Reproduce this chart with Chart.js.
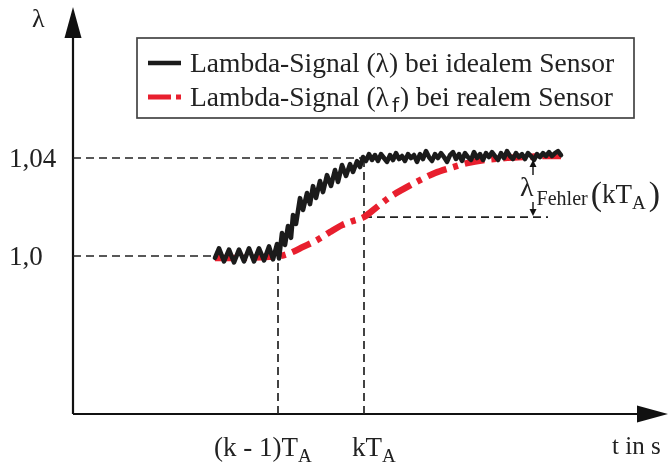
<!DOCTYPE html>
<html lang="de">
<head>
<meta charset="utf-8">
<title>Lambda-Signal</title>
<script src="https://cdn.jsdelivr.net/npm/chart.js@4.4.0/dist/chart.umd.min.js"></script>
<style>
	body { margin:0; background:#fff; }
	#wrap { width:671px; height:468px; position:relative; }
</style>
</head>
<body>
<div id="wrap"><canvas id="lambdaChart"></canvas></div>
<script>
// time axis (arbitrary units) and lambda values
const tIdeal = [14.2,14.6,15.1,15.6,16.1,16.6,17.1,17.6,18.1,18.6,19.1,19.6,20.0,20.4,20.6,
	20.9,21.2,21.5,21.8,22.0,22.3,22.7,23.0,23.4,23.7,24.0,24.3,24.7,25.0,25.4,25.8,26.2,26.5,26.9,27.3,27.7,28.0,28.4,28.7,29.0,
	29.3,29.6,29.9,30.2,30.5,30.8,31.1,31.4,31.7,32.0,32.3,32.6,32.9,33.2,33.5,33.8,34.1,34.4,34.7,35.0,
	35.3,35.6,35.9,36.2,36.5,36.8,37.1,37.4,37.7,38.0,38.3,38.6,38.9,39.2,39.5,39.8,40.1,40.4,40.7,41.0,
	41.3,41.6,41.9,42.2,42.5,42.8,43.1,43.4,43.7,44.0,44.3,44.6,44.9,45.2,45.5,45.8,46.1,46.4,46.7,47.0,
	47.3,47.6,47.9,48.2,48.5,48.8];
const lambdaIdeal = [0.9992,1.0031,0.9978,1.0026,0.9974,1.0026,0.9978,1.0031,0.9978,1.0031,0.9982,1.0039,0.9986,1.0049,0.9990,
	1.0094,1.0045,1.0122,1.0074,1.0167,1.0131,1.0236,1.0188,1.0257,1.0212,1.0285,1.0237,1.0306,1.0261,1.0330,1.0286,1.0351,1.0302,1.0371,1.0327,1.0375,1.0343,1.0387,1.0363,1.0404,
	1.0388,1.0416,1.0392,1.0412,1.0388,1.0416,1.0400,1.0384,1.0412,1.0392,1.0420,1.0396,1.0408,1.0388,1.0416,1.0400,1.0412,1.0384,1.0416,1.0396,
	1.0428,1.0404,1.0388,1.0416,1.0400,1.0420,1.0404,1.0384,1.0412,1.0424,1.0396,1.0416,1.0388,1.0420,1.0404,1.0392,1.0424,1.0400,1.0416,1.0392,
	1.0420,1.0404,1.0424,1.0408,1.0392,1.0420,1.0400,1.0428,1.0408,1.0396,1.0420,1.0404,1.0416,1.0396,1.0420,1.0408,1.0392,1.0416,1.0404,1.0420,
	1.0408,1.0424,1.0408,1.0420,1.0428,1.0412];

const tReal = [14.2,16.7,19.2,20.7,21.7,23.0,24.4,25.7,26.9,28.0,29.1,30.4,31.7,33.2,34.7,36.2,37.7,39.4,41.2,43.2,45.2,47.2,48.8];
const lambdaReal = [0.9992,0.9992,0.9996,1.0000,1.0012,1.0037,1.0065,1.0098,1.0126,1.0143,1.0159,1.0200,1.0241,1.0277,1.0310,1.0339,1.0359,1.0379,1.0392,1.0400,1.0404,1.0408,1.0408];

// axis range and marked positions
const tMin = 0, tMax = 59.5;
const lambdaMin = 0.9355, lambdaMax = 1.0996;
const tickLevels = [1.0, 1.04];
const tickLevelLabels = ['1,0', '1,04'];
const tKm1 = 20.5, tK = 29.1;
const lambdaFAtK = 1.0159;
const tErrorArrow = 46.0, tErrorEnd = 47.5;

const serif = '"Liberation Serif", "DejaVu Serif", serif';

function pts(xs, ys) {
	return xs.map(function (x, i) { return { x: x, y: ys[i] }; });
}

function guide(a, b) {
	return {
		data: [a, b],
		borderColor: '#222',
		borderWidth: 1.7,
		borderDash: [8, 5],
		pointRadius: 0,
		fill: false,
		tension: 0
	};
}

// draws text pieces with sub/superscripts, returns end x
function rich(ctx, parts, x, y) {
	parts.forEach(function (p) {
		ctx.font = (p.size || 27) + 'px ' + (p.family || serif);
		ctx.fillText(p.t, x, y + (p.dy || 0));
		x += ctx.measureText(p.t).width + (p.gap || 0);
	});
	return x;
}

function arrowHead(ctx, tipX, tipY, dx, dy, len, half) {
	const px = -dy, py = dx;
	ctx.beginPath();
	ctx.moveTo(tipX, tipY);
	ctx.lineTo(tipX - dx * len + px * half, tipY - dy * len + py * half);
	ctx.lineTo(tipX - dx * len - px * half, tipY - dy * len - py * half);
	ctx.closePath();
	ctx.fill();
}

const decorations = {
	id: 'decorations',
	beforeDatasetsDraw(chart) {
		const ctx = chart.ctx, a = chart.chartArea;
		ctx.save();
		ctx.strokeStyle = '#111';
		ctx.fillStyle = '#111';
		ctx.lineWidth = 2.2;
		// y axis
		ctx.beginPath();
		ctx.moveTo(a.left, a.bottom);
		ctx.lineTo(a.left, a.top + 20);
		ctx.stroke();
		arrowHead(ctx, a.left, a.top - 5, 0, -1, 31, 8.5);
		// x axis
		ctx.beginPath();
		ctx.moveTo(a.left, a.bottom);
		ctx.lineTo(a.right - 20, a.bottom);
		ctx.stroke();
		arrowHead(ctx, a.right, a.bottom, 1, 0, 31, 8.5);
		ctx.restore();
	},
	afterDraw(chart) {
		const ctx = chart.ctx, a = chart.chartArea;
		const xs = chart.scales.x, ys = chart.scales.y;
		ctx.save();
		ctx.fillStyle = '#222';
		ctx.textBaseline = 'alphabetic';

		// y labels
		ctx.textAlign = 'left';
		rich(ctx, [{ t: 'λ', size: 26 }], 32, 27);
		tickLevels.forEach(function (v, i) {
			rich(ctx, [{ t: tickLevelLabels[i], size: 27 }], 9, ys.getPixelForValue(v) + 9);
		});

		// x labels
		const base = a.bottom + 42;
		rich(ctx, [{ t: '(k - 1)T' }, { t: 'A', size: 19, dy: 6 }], xs.getPixelForValue(tKm1) - 64, base);
		rich(ctx, [{ t: 'kT' }, { t: 'A', size: 19, dy: 6 }], xs.getPixelForValue(tK) - 12, base);
		rich(ctx, [{ t: 't in s', size: 25 }], 612, base - 2);

		// error annotation
		const xe = xs.getPixelForValue(tErrorArrow);
		const yTop = ys.getPixelForValue(1.04), yBot = ys.getPixelForValue(lambdaFAtK);
		ctx.strokeStyle = '#111';
		ctx.lineWidth = 1.4;
		ctx.beginPath();
		ctx.moveTo(xe, yTop + 17); ctx.lineTo(xe, yTop + 6);
		ctx.moveTo(xe, yBot - 15); ctx.lineTo(xe, yBot - 6);
		ctx.stroke();
		ctx.fillStyle = '#111';
		arrowHead(ctx, xe, yTop + 2, 0, -1, 7, 3.5);
		arrowHead(ctx, xe, yBot - 1, 0, 1, 7, 3.5);
		ctx.fillStyle = '#222';
		let ex = rich(ctx, [{ t: 'λ', size: 28 }], xe - 13, 196);
		ex = rich(ctx, [{ t: 'Fehler', size: 20, gap: 3 }], ex + 3, 205);
		ex = rich(ctx, [{ t: '(', size: 34 }], ex, 205);
		ex = rich(ctx, [{ t: 'kT', size: 27 }], ex, 203);
		ex = rich(ctx, [{ t: 'A', size: 19, gap: 3 }], ex, 209);
		rich(ctx, [{ t: ')', size: 34 }], ex, 205);

		// legend
		const lx = 137, ly = 38, lw = 497, lh = 80;
		ctx.fillStyle = '#fff';
		ctx.fillRect(lx, ly, lw, lh);
		ctx.strokeStyle = '#444';
		ctx.lineWidth = 1.7;
		ctx.strokeRect(lx, ly, lw, lh);
		const ds = chart.data.datasets;
		ctx.lineCap = 'butt';
		ctx.strokeStyle = ds[0].borderColor;
		ctx.lineWidth = 4.5;
		ctx.beginPath(); ctx.moveTo(148, 63); ctx.lineTo(181, 63); ctx.stroke();
		ctx.strokeStyle = ds[1].borderColor;
		ctx.lineWidth = 5;
		ctx.beginPath(); ctx.moveTo(148, 97); ctx.lineTo(171, 97);
		ctx.moveTo(176, 97); ctx.lineTo(181, 97); ctx.stroke();
		ctx.fillStyle = '#222';
		rich(ctx, [{ t: 'Lambda-Signal (λ) bei idealem Sensor', size: 27.5 }], 190, 72);
		let rx = rich(ctx, [{ t: 'Lambda-Signal (λ', size: 27.5, gap: 3 }], 190, 106);
		rx = rich(ctx, [{ t: 'f', size: 20, family: '"DejaVu Sans", sans-serif' }], rx, 112);
		rich(ctx, [{ t: ') bei realem Sensor', size: 27.5 }], rx + 1, 106);
		ctx.restore();
	}
};

const chart = new Chart(document.getElementById('lambdaChart'), {
	type: 'line',
	data: {
		datasets: [
			{
				label: 'Lambda-Signal (λ) bei idealem Sensor',
				data: pts(tIdeal, lambdaIdeal),
				borderColor: '#1b1b1b',
				borderWidth: 4.6,
				borderJoinStyle: 'round',
				borderCapStyle: 'round',
				pointRadius: 0,
				tension: 0
			},
			{
				label: 'Lambda-Signal (λf) bei realem Sensor',
				data: pts(tReal, lambdaReal),
				borderColor: '#e81f2e',
				borderWidth: 6.5,
				borderDash: [20, 7, 5, 7],
				pointRadius: 0,
				cubicInterpolationMode: 'monotone'
			},
			guide({ x: tMin, y: 1.04 }, { x: tK, y: 1.04 }),
			guide({ x: tMin, y: 1.0 }, { x: tIdeal[0], y: 1.0 }),
			guide({ x: tKm1, y: lambdaMin }, { x: tKm1, y: 1.0 }),
			guide({ x: tK, y: lambdaMin }, { x: tK, y: 1.04 }),
			guide({ x: tK, y: lambdaFAtK }, { x: tErrorEnd, y: lambdaFAtK })
		]
	},
	options: {
		responsive: true,
		maintainAspectRatio: false,
		animation: false,
		layout: { padding: { left: 73, right: 3, top: 12, bottom: 54 } },
		plugins: { legend: { display: false }, tooltip: { enabled: false } },
		scales: {
			x: { type: 'linear', display: false, min: tMin, max: tMax },
			y: { type: 'linear', display: false, min: lambdaMin, max: lambdaMax }
		}
	},
	plugins: [decorations]
});
</script>
</body>
</html>
